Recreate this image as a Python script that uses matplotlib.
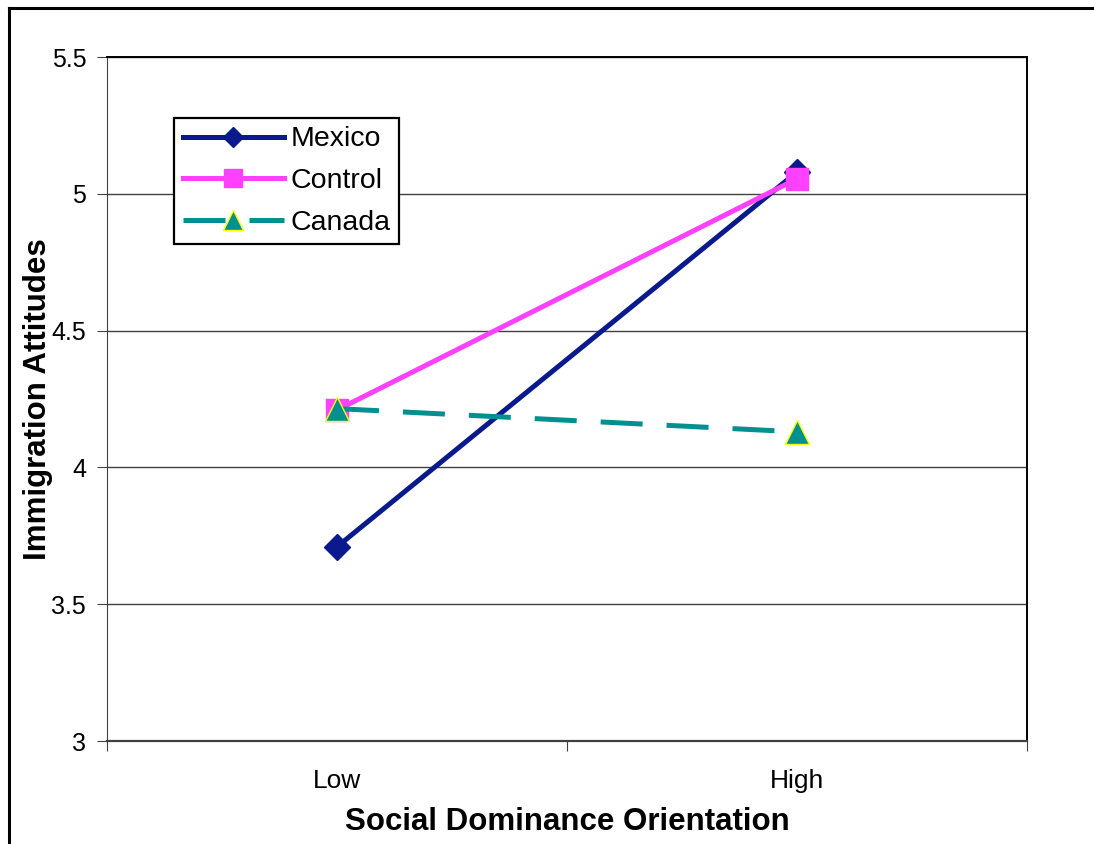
import matplotlib.pyplot as plt
from matplotlib.lines import Line2D

plt.rcParams['font.family'] = ['Liberation Sans', 'DejaVu Sans']

# data
categories = ["Low", "High"]
mexico = [3.71, 5.08]
control = [4.21, 5.055]
canada = [4.215, 4.13]
y_ticks = [3, 3.5, 4, 4.5, 5, 5.5]
y_tick_labels = ["3", "3.5", "4", "4.5", "5", "5.5"]

navy = "#0A1A8C"
pink = "#FF40FF"
teal = "#009090"

fig = plt.figure(figsize=(10.94, 8.44), dpi=100)
ax = fig.add_axes([0.0978, 0.122, 0.841, 0.8104])

# outer chart frame (left and top edges visible in the reference)
fig.add_artist(Line2D([0.0078, 0.0078], [0.0, 0.9905], transform=fig.transFigure,
                      color="black", lw=2.2))
fig.add_artist(Line2D([0.0078, 1.0], [0.9905, 0.9905], transform=fig.transFigure,
                      color="black", lw=2.2))

x = [0.5, 1.5]
lw = 3.6

ax.plot(x, mexico, color=navy, lw=lw, marker="D", markersize=13,
        markerfacecolor=navy, markeredgecolor=navy, zorder=3)
ax.plot(x, control, color=pink, lw=lw, marker="s", markersize=16,
        markerfacecolor=pink, markeredgecolor=pink, zorder=4)
ax.plot(x, canada, color=teal, lw=lw, marker="^", markersize=17,
        markerfacecolor=teal, markeredgecolor="#FFFF00", markeredgewidth=1.0,
        dashes=(8.4, 4.8), zorder=5)

ax.set_xlim(0, 2)
ax.set_ylim(3, 5.5)
ax.set_yticks(y_ticks)
ax.set_yticklabels(y_tick_labels, fontsize=18)
ax.set_xticks([0, 1, 2])
ax.set_xticklabels([])
ax.set_xticks(x, minor=True)
ax.set_xticklabels(categories, minor=True, fontsize=19)
ax.tick_params(axis="x", which="minor", length=0, pad=20)
ax.tick_params(axis="x", which="major", length=7, direction="out", color="#404040")
ax.tick_params(axis="y", length=7, direction="out", color="#404040", pad=8)

ax.grid(axis="y", color="#404040", lw=1.0)
ax.set_axisbelow(True)
for side in ["top", "right"]:
    ax.spines[side].set_color("black")
    ax.spines[side].set_linewidth(1.4)
ax.spines["left"].set_color("#404040")
ax.spines["bottom"].set_color("#404040")
ax.spines["bottom"].set_linewidth(1.6)

ax.set_xlabel("Social Dominance Orientation", fontsize=22.5, fontweight="bold")
ax.xaxis.set_label_coords(0.5, -0.096)
ax.set_ylabel("Immigration Attitudes", fontsize=22.5, fontweight="bold")
ax.yaxis.set_label_coords(-0.059, 0.5)

# legend handles with the smaller legend markers of the reference
handles = [
    Line2D([], [], color=navy, lw=lw, marker="D", markersize=10,
           markerfacecolor=navy, markeredgecolor=navy),
    Line2D([], [], color=pink, lw=lw, marker="s", markersize=13,
           markerfacecolor=pink, markeredgecolor=pink),
    Line2D([], [], color=teal, lw=lw, marker="^", markersize=14,
           markerfacecolor=teal, markeredgecolor="#FFFF00", markeredgewidth=1.0,
           dashes=(8.4, 4.8)),
]
leg = ax.legend(handles, ["Mexico", "Control", "Canada"], loc="upper left",
                bbox_to_anchor=(0.0728, 0.911), fontsize=20.5,
                frameon=True, fancybox=False, edgecolor="black", framealpha=1,
                handlelength=3.55, handletextpad=0.25, borderpad=0.3, labelspacing=0.55,
                borderaxespad=0)
leg.get_frame().set_linewidth(1.6)

fig.savefig("out.png", dpi=100)
